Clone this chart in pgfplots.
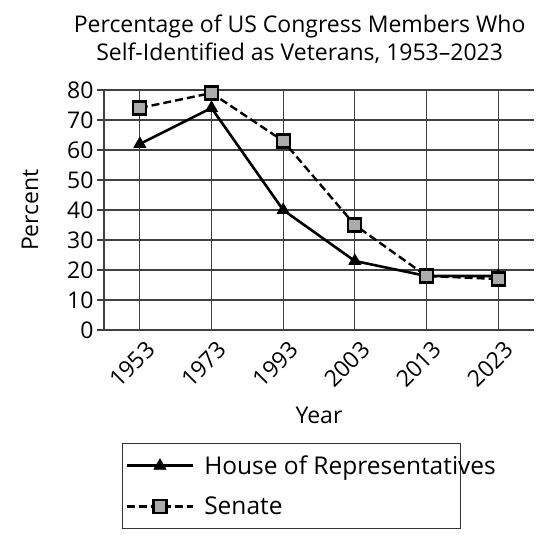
\documentclass[border=0pt]{standalone}
\usepackage{fontspec}
\setmainfont{Open Sans}
\usepackage{pgfplots}
\pgfplotsset{compat=1.18}

% Share of members of Congress who are veterans
\newcommand{\chartfont}{\fontsize{23pt}{28pt}\selectfont}
\newcommand{\tickfont}{\fontsize{23pt}{26pt}\selectfont}
\newcommand{\legendfont}{\fontsize{24.5pt}{28pt}\selectfont}

\begin{document}
\begin{tikzpicture}
\begin{axis}[
  at={(104pt,207pt)}, anchor=south west,
  scale only axis, width=430pt, height=240pt,
  xmin=-0.5, xmax=5.5, ymin=0, ymax=80,
  xtick={0,1,2,3,4,5},
  xticklabels={1953,1973,1993,2003,2013,2023},
  ytick={0,10,...,80},
  axis x line*=bottom, axis y line*=left,
  axis line style={draw=black!75, line width=1.2pt},
  grid=major,
  major grid style={draw=black!75, line width=1.2pt},
  major tick length=7pt,
  tick style={draw=black!75, line width=1.2pt},
  xtick style={draw=none},
  tick align=outside,
  /pgf/number format/assume math mode=true,
  tick label style={font=\tickfont, text=black},
  yticklabel style={xshift=0pt},
  xticklabel style={rotate=45, anchor=east, xshift=5pt, yshift=-14pt},
  label style={font=\chartfont},
  xlabel={Year},
  xlabel style={at={(axis description cs:0.5,-0.354)}, anchor=center},
  ylabel={Percent},
  ylabel style={at={(axis description cs:-0.172,0.5)}, anchor=center},
  title={Percentage of US Congress Members Who\\Self-Identified as Veterans, 1953--2023},
  title style={font=\chartfont, align=center, at={(axis description cs:0.455,1)}, anchor=south, yshift=17pt},
  legend style={
    at={(axis description cs:0.042,-0.471)}, anchor=north west,
    draw=black!80, line width=1.2pt, font=\legendfont,
    inner xsep=3pt, inner ysep=10pt, row sep=17pt,
  },
  legend cell align=left,
  legend image code/.code={%
    \draw[mark repeat=2, mark phase=2, #1] plot coordinates {(0pt,0pt) (33pt,0pt) (66pt,0pt)};
  },
]
\addplot[black, line width=2.6pt, mark=triangle*, mark size=7pt,
  mark options={solid, fill=black, line width=0.6pt}]
  coordinates {(0,62) (1,74) (2,40) (3,23) (4,18) (5,18)};
\addlegendentry{\hspace{8pt}\makebox[251pt][l]{House of Representatives}}
\addplot[black, line width=2.4pt, dash pattern=on 8pt off 4pt, mark=square*, mark size=6.5pt,
  mark options={solid, fill=black!33, draw=black, line width=2.2pt}]
  coordinates {(0,74) (1,79) (2,63) (3,35) (4,18) (5,17)};
\addlegendentry{\hspace{8pt}Senate}
\end{axis}
\pgfresetboundingbox
\path[use as bounding box] (0,0) rectangle (556pt,537pt);
\end{tikzpicture}
\end{document}
